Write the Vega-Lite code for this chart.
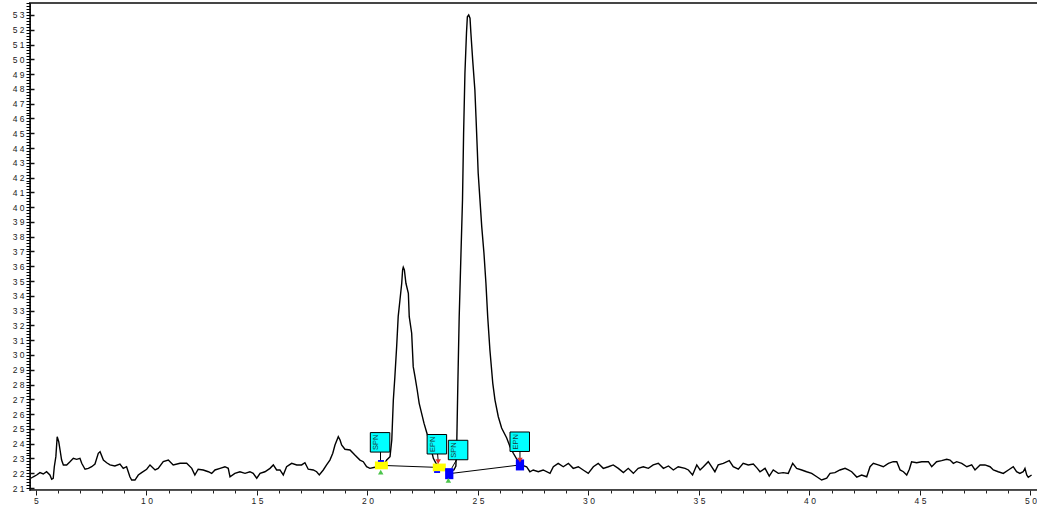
{
  "$schema": "https://vega.github.io/schema/vega-lite/v6.json",
  "autosize": {"type": "none"},
  "padding": {"left": 30, "top": 3, "right": 0, "bottom": 18},
  "width": 1008,
  "height": 487,
  "background": "white",
  "config": {
    "view": {"stroke": "#454545", "strokeWidth": 2},
    "axis": {"labelFont": "Liberation Sans", "labelFontSize": 8.5, "labelColor": "#222", "domainColor": "#333", "tickColor": "#111", "grid": false, "title": null}
  },
  "datasets": {
    "trace": [
      {"t":4.77,"v":21.66},{"t":4.88,"v":21.76},{"t":5.03,"v":21.88},{"t":5.18,"v":22.04},{"t":5.33,"v":21.95},{"t":5.48,"v":22.10},{"t":5.63,"v":21.88},{"t":5.71,"v":21.59},{"t":5.78,"v":21.66},{"t":5.83,"v":22.44},{"t":5.90,"v":23.12},{"t":5.96,"v":24.47},{"t":6.03,"v":24.13},{"t":6.09,"v":23.57},{"t":6.16,"v":22.89},{"t":6.24,"v":22.56},{"t":6.39,"v":22.56},{"t":6.54,"v":22.78},{"t":6.69,"v":23.01},{"t":6.84,"v":22.94},{"t":6.99,"v":23.01},{"t":7.07,"v":22.67},{"t":7.22,"v":22.27},{"t":7.37,"v":22.33},{"t":7.52,"v":22.44},{"t":7.67,"v":22.62},{"t":7.82,"v":23.35},{"t":7.90,"v":23.46},{"t":8.05,"v":22.89},{"t":8.20,"v":22.71},{"t":8.35,"v":22.56},{"t":8.57,"v":22.49},{"t":8.80,"v":22.62},{"t":8.95,"v":22.33},{"t":9.10,"v":22.44},{"t":9.25,"v":21.76},{"t":9.33,"v":21.54},{"t":9.48,"v":21.54},{"t":9.63,"v":21.88},{"t":9.78,"v":22.04},{"t":10.01,"v":22.27},
      {"t":10.16,"v":22.56},{"t":10.39,"v":22.22},{"t":10.53,"v":22.33},{"t":10.76,"v":22.78},{"t":10.99,"v":22.89},{"t":11.21,"v":22.56},{"t":11.52,"v":22.67},{"t":11.82,"v":22.67},{"t":12.05,"v":22.33},{"t":12.19,"v":21.88},{"t":12.34,"v":22.27},{"t":12.57,"v":22.22},{"t":12.80,"v":22.10},{"t":12.95,"v":21.99},{"t":13.10,"v":22.22},{"t":13.33,"v":22.33},{"t":13.55,"v":22.44},{"t":13.70,"v":22.33},{"t":13.78,"v":21.76},{"t":14.00,"v":21.99},{"t":14.23,"v":22.10},{"t":14.46,"v":21.99},{"t":14.68,"v":22.10},{"t":14.83,"v":21.99},{"t":14.99,"v":21.66},{"t":15.14,"v":21.99},{"t":15.36,"v":22.10},{"t":15.59,"v":22.33},{"t":15.74,"v":22.56},{"t":15.89,"v":22.22},{"t":16.04,"v":22.22},{"t":16.19,"v":21.88},{"t":16.34,"v":22.44},{"t":16.57,"v":22.67},{"t":16.80,"v":22.56},{"t":17.02,"v":22.56},{"t":17.17,"v":22.71},{"t":17.32,"v":22.27},{"t":17.55,"v":22.22},{"t":17.70,"v":22.10},{"t":17.82,"v":21.88},{"t":18.00,"v":22.22},{"t":18.15,"v":22.56},{"t":18.30,"v":22.89},{"t":18.43,"v":23.35},{"t":18.53,"v":23.91},{"t":18.68,"v":24.47},{"t":18.76,"v":24.25},{"t":18.83,"v":23.91},{"t":18.98,"v":23.62},{"t":19.21,"v":23.57},{"t":19.43,"v":23.23},{"t":19.66,"v":22.89},{"t":19.81,"v":22.78},{"t":19.96,"v":22.44},{"t":20.11,"v":22.33},{"t":20.34,"v":22.40},{"t":20.57,"v":22.49},{"t":20.75,"v":22.62},{"t":20.87,"v":22.89},{"t":21.02,"v":23.12},{"t":21.10,"v":24.25},{"t":21.17,"v":26.95},{"t":21.24,"v":28.53},{"t":21.32,"v":30.56},{"t":21.39,"v":32.59},{"t":21.47,"v":33.72},{"t":21.55,"v":34.85},{"t":21.59,"v":35.75},{"t":21.62,"v":35.93},{"t":21.67,"v":35.75},{"t":21.74,"v":34.85},{"t":21.85,"v":34.17},{"t":21.89,"v":32.59},{"t":22.00,"v":31.47},{"t":22.07,"v":29.21},{"t":22.15,"v":28.53},{"t":22.25,"v":27.63},{"t":22.34,"v":26.73},{"t":22.45,"v":26.05},{"t":22.56,"v":25.37},{"t":22.67,"v":24.81},{"t":22.78,"v":24.25},{"t":22.87,"v":23.71},{"t":22.98,"v":23.01},{"t":23.10,"v":22.67},{"t":23.24,"v":22.49},{"t":23.37,"v":22.35},{"t":23.55,"v":22.22},{"t":23.73,"v":22.15},{"t":23.91,"v":22.22},{"t":24.00,"v":22.49},{"t":24.04,"v":24.02},{"t":24.09,"v":28.10},{"t":24.15,"v":32.57},{"t":24.22,"v":36.29},{"t":24.30,"v":40.49},{"t":24.35,"v":45.02},{"t":24.41,"v":49.08},{"t":24.48,"v":51.78},{"t":24.52,"v":52.88},{"t":24.58,"v":53.00},{"t":24.64,"v":52.78},{"t":24.68,"v":51.76},{"t":24.76,"v":49.96},{"t":24.86,"v":47.93},{"t":24.91,"v":46.12},{"t":24.97,"v":43.87},{"t":25.01,"v":42.29},{"t":25.09,"v":40.49},{"t":25.17,"v":38.68},{"t":25.27,"v":36.9},{"t":25.36,"v":34.85},{"t":25.44,"v":32.59},{"t":25.54,"v":30.34},{"t":25.67,"v":28.08},{"t":25.77,"v":26.95},{"t":25.92,"v":25.82},{"t":26.07,"v":25.06},{"t":26.30,"v":24.38},{"t":26.45,"v":23.79},{"t":26.60,"v":23.35},{"t":26.82,"v":22.78},{"t":26.95,"v":22.56},{"t":27.20,"v":22.44},{"t":27.35,"v":22.10},{"t":27.50,"v":22.22},{"t":27.73,"v":22.10},{"t":27.95,"v":22.22},{"t":28.26,"v":21.99},{"t":28.41,"v":22.44},{"t":28.63,"v":22.67},{"t":28.86,"v":22.44},{"t":29.09,"v":22.67},{"t":29.31,"v":22.33},{"t":29.54,"v":22.44},{"t":29.76,"v":22.22},{"t":29.99,"v":21.99},{"t":30.22,"v":22.44},{"t":30.44,"v":22.67},{"t":30.67,"v":22.33},{"t":30.90,"v":22.44},{"t":31.12,"v":22.56},{"t":31.35,"v":22.33},{"t":31.58,"v":22.04},{"t":31.80,"v":22.33},{"t":32.03,"v":21.99},{"t":32.25,"v":22.33},{"t":32.48,"v":22.44},{"t":32.71,"v":22.33},{"t":32.93,"v":22.56},{"t":33.16,"v":22.67},{"t":33.39,"v":22.33},{"t":33.62,"v":22.49},{"t":33.84,"v":22.22},{"t":34.06,"v":22.44},{"t":34.37,"v":22.33},{"t":34.52,"v":22.22},{"t":34.71,"v":21.88},{"t":34.90,"v":22.56},{"t":35.05,"v":22.22},{"t":35.20,"v":22.44},{"t":35.42,"v":22.78},{"t":35.57,"v":22.44},{"t":35.72,"v":22.10},{"t":35.87,"v":22.56},{"t":36.10,"v":22.67},{"t":36.37,"v":22.85},{"t":36.55,"v":22.44},{"t":36.78,"v":22.27},{"t":37.00,"v":22.67},{"t":37.23,"v":22.56},{"t":37.46,"v":22.62},{"t":37.64,"v":22.33},{"t":37.76,"v":22.10},{"t":37.99,"v":22.33},{"t":38.18,"v":21.81},{"t":38.36,"v":22.22},{"t":38.59,"v":21.99},{"t":38.81,"v":22.04},{"t":39.04,"v":21.99},{"t":39.24,"v":22.67},{"t":39.42,"v":22.33},{"t":39.65,"v":22.22},{"t":39.87,"v":22.10},{"t":40.10,"v":21.99},{"t":40.33,"v":21.76},{"t":40.55,"v":21.54},{"t":40.78,"v":21.66},{"t":40.93,"v":21.99},{"t":41.15,"v":22.04},{"t":41.38,"v":22.22},{"t":41.61,"v":22.33},{"t":41.76,"v":22.22},{"t":41.91,"v":22.10},{"t":42.14,"v":21.74},{"t":42.36,"v":21.88},{"t":42.59,"v":21.76},{"t":42.74,"v":22.44},{"t":42.89,"v":22.67},{"t":43.11,"v":22.56},{"t":43.34,"v":22.44},{"t":43.57,"v":22.67},{"t":43.79,"v":22.78},{"t":43.95,"v":22.78},{"t":44.10,"v":22.22},{"t":44.25,"v":22.10},{"t":44.40,"v":21.88},{"t":44.52,"v":22.27},{"t":44.62,"v":22.78},{"t":44.85,"v":22.71},{"t":45.08,"v":22.78},{"t":45.38,"v":22.78},{"t":45.53,"v":22.44},{"t":45.75,"v":22.78},{"t":45.98,"v":22.85},{"t":46.21,"v":22.94},{"t":46.36,"v":22.89},{"t":46.51,"v":22.67},{"t":46.66,"v":22.78},{"t":46.89,"v":22.67},{"t":47.12,"v":22.44},{"t":47.34,"v":22.56},{"t":47.49,"v":22.22},{"t":47.72,"v":22.56},{"t":47.94,"v":22.56},{"t":48.17,"v":22.44},{"t":48.32,"v":22.22},{"t":48.54,"v":22.10},{"t":48.77,"v":21.99},{"t":49.00,"v":22.22},{"t":49.22,"v":22.44},{"t":49.37,"v":22.10},{"t":49.52,"v":21.99},{"t":49.67,"v":22.10},{"t":49.75,"v":22.33},{"t":49.83,"v":21.88},{"t":49.90,"v":21.72},{"t":50.05,"v":21.88}
    ],
    "baselines": [
      {"seg":"a","t":20.63,"v":22.53},{"seg":"a","t":23.25,"v":22.39},
      {"seg":"b","t":23.70,"v":21.97},{"seg":"b","t":26.90,"v":22.56}
    ],
    "pointers": [
      {"t":20.59,"v":23.47,"t2":20.59,"v2":22.83},
      {"t":23.17,"v":23.33,"t2":23.20,"v2":22.83},
      {"t":24.04,"v":22.94,"t2":23.81,"v2":22.33},
      {"t":26.90,"v":23.52,"t2":26.90,"v2":23.03}
    ],
    "boxes": [
      {"t":20.57,"v":24.09,"label":"SPN"},
      {"t":23.14,"v":23.96,"label":"EPN"},
      {"t":24.10,"v":23.57,"label":"SPN"},
      {"t":26.89,"v":24.13,"label":"EPN"}
    ],
    "markers": [
      {"t":20.63,"v":22.53,"kind":"yellow"},
      {"t":23.25,"v":22.39,"kind":"yellow"},
      {"t":23.70,"v":21.97,"kind":"blue"},
      {"t":26.90,"v":22.56,"kind":"blue"},
      {"t":20.61,"v":22.83,"kind":"dash"},
      {"t":23.15,"v":22.08,"kind":"dash"},
      {"t":20.60,"v":22.08,"kind":"green"},
      {"t":23.66,"v":21.52,"kind":"green"},
      {"t":23.20,"v":22.78,"kind":"red"},
      {"t":26.90,"v":22.89,"kind":"red"}
    ]
  },
  "resolve": {"axis": {"x": "independent", "y": "independent"}},
  "layer": [
    {
      "data": {"name": "trace"},
      "mark": {"type": "line", "color": "black", "strokeWidth": 1.4, "interpolate": "linear"},
      "encoding": {
        "x": {"field": "t", "type": "quantitative", "scale": {"domain": [4.73, 50.34], "nice": false, "zero": false},
              "axis": {"orient": "bottom", "values": [5,10,15,20,25,30,35,40,45,50], "tickSize": 5, "labelPadding": 1, "domainColor": "#555",
                       "labelExpr": "length(datum.label) > 1 ? substring(datum.label,0,1) + ' ' + substring(datum.label,1) : datum.label"}},
        "y": {"field": "v", "type": "quantitative", "scale": {"domain": [20.865, 53.81], "nice": false, "zero": false},
              "axis": {"orient": "left", "values": [21,22,23,24,25,26,27,28,29,30,31,32,33,34,35,36,37,38,39,40,41,42,43,44,45,46,47,48,49,50,51,52,53], "ticks": false, "labelPadding": 6, "domainColor": "#111",
                       "labelExpr": "length(datum.label) > 1 ? substring(datum.label,0,1) + ' ' + substring(datum.label,1) : datum.label"}}
      }
    },
    {
      "data": {"name": "trace"},
      "mark": {"type": "line", "opacity": 0},
      "encoding": {
        "x": {"field": "t", "type": "quantitative",
              "axis": {"orient": "bottom", "tickCount": 45, "labels": false, "domain": false, "tickSize": 3, "tickColor": "#222"}},
        "y": {"field": "v", "type": "quantitative",
              "axis": {"orient": "left", "tickCount": 160, "labels": false, "domain": false, "tickSize": 4, "tickWidth": 1, "tickColor": "#000"}}
      }
    },
    {
      "data": {"name": "trace"},
      "mark": {"type": "line", "opacity": 0},
      "encoding": {
        "x": {"field": "t", "type": "quantitative", "axis": null},
        "y": {"field": "v", "type": "quantitative",
              "axis": {"orient": "left", "values": [21,22,23,24,25,26,27,28,29,30,31,32,33,34,35,36,37,38,39,40,41,42,43,44,45,46,47,48,49,50,51,52,53], "labels": false, "domain": false, "tickSize": -4, "tickWidth": 1.5}}
      }
    },
    {
      "data": {"name": "baselines"},
      "mark": {"type": "line", "color": "black", "strokeWidth": 1},
      "encoding": {
        "x": {"field": "t", "type": "quantitative", "axis": null},
        "y": {"field": "v", "type": "quantitative", "axis": null},
        "detail": {"field": "seg"}
      }
    },
    {
      "data": {"name": "pointers"},
      "mark": {"type": "rule", "color": "black", "strokeWidth": 1},
      "encoding": {
        "x": {"field": "t", "type": "quantitative", "axis": null},
        "y": {"field": "v", "type": "quantitative", "axis": null},
        "x2": {"field": "t2"},
        "y2": {"field": "v2"}
      }
    },
    {
      "data": {"name": "boxes"},
      "mark": {"type": "point", "shape": "square", "size": 380, "filled": true, "fill": "#00FFFF", "stroke": "black", "strokeWidth": 1, "opacity": 1},
      "encoding": {
        "x": {"field": "t", "type": "quantitative", "axis": null},
        "y": {"field": "v", "type": "quantitative", "axis": null}
      }
    },
    {
      "data": {"name": "boxes"},
      "mark": {"type": "text", "angle": 270, "align": "center", "baseline": "middle", "dy": -4, "font": "Liberation Sans", "fontSize": 7.5, "color": "#1c3c3c"},
      "encoding": {
        "x": {"field": "t", "type": "quantitative", "axis": null},
        "y": {"field": "v", "type": "quantitative", "axis": null},
        "text": {"field": "label"}
      }
    },
    {
      "data": {"name": "markers"},
      "mark": {"type": "point", "filled": true, "opacity": 1, "strokeWidth": 0},
      "encoding": {
        "x": {"field": "t", "type": "quantitative", "axis": null},
        "y": {"field": "v", "type": "quantitative", "axis": null},
        "shape": {"field": "kind", "type": "nominal", "legend": null,
                  "scale": {"domain": ["yellow","blue","dash","green","red"],
                            "range": ["M-1,-0.6H1V0.6H-1Z","M-0.75,-1H0.75V1H-0.75Z","M-1,-0.3H1V0.3H-1Z","triangle-up","triangle-down"]}},
        "color": {"field": "kind", "type": "nominal", "legend": null,
                  "scale": {"domain": ["yellow","blue","dash","green","red"], "range": ["#FFFF00","#0000FF","#0000FF","#4CC44C","#E03030"]}},
        "size": {"field": "kind", "type": "nominal", "legend": null,
                 "scale": {"type": "ordinal", "domain": ["yellow","blue","dash","green","red"], "range": [169, 121, 36, 30, 30]}}
      }
    }
  ]
}
